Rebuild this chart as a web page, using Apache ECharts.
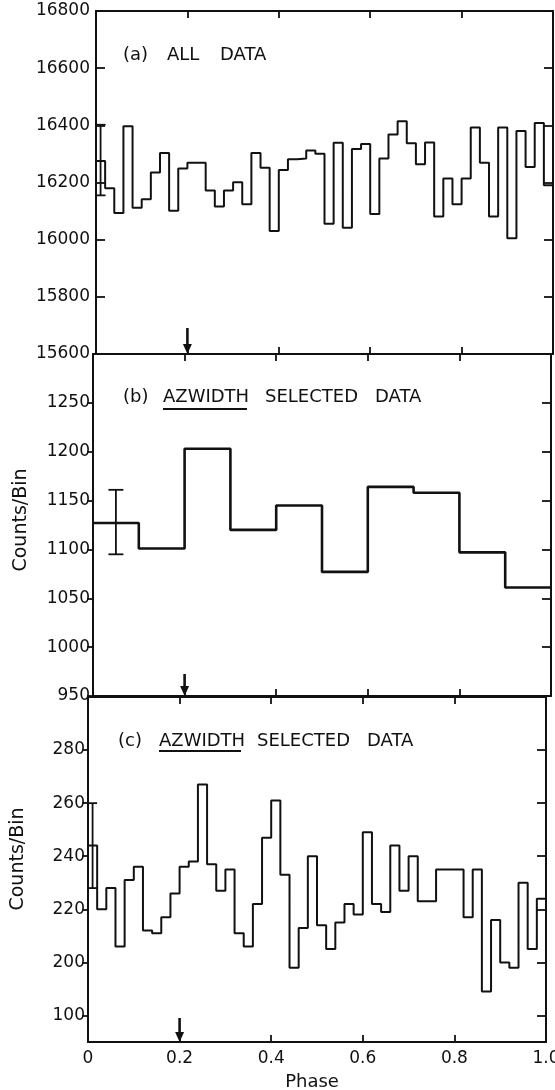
<!DOCTYPE html>
<html><head><meta charset="utf-8">
<script src="https://cdn.jsdelivr.net/npm/echarts@6/dist/echarts.min.js"></script>
<style>html,body{margin:0;padding:0;background:#fff}#c{width:555px;height:1090px}</style>
</head><body><div id="c"></div>
<script>
// ---- data ----
const countsA = [16275,16180,16093,16397,16112,16141,16235,16303,16101,16249,
                 16269,16269,16172,16116,16172,16201,16124,16303,16252,16030,
                 16244,16281,16284,16312,16301,16056,16339,16042,16317,16335,
                 16090,16284,16368,16414,16337,16264,16340,16081,16214,16124,
                 16214,16392,16269,16081,16392,16005,16380,16254,16408,16190];
const countsB = [1127,1101,1203,1120,1145,1077,1164,1158,1097,1061];
const countsC = [244,220,228,206,231,236,212,211,217,226,
                 236,238,267,237,227,235,211,206,222,247,
                 261,233,198,213,240,214,205,215,222,218,
                 249,222,219,244,227,240,223,223,235,235,
                 235,217,235,189,216,200,198,230,205,224];
const errorBarA = [0.01, 16155, 16402];
const errorBarB = [0.05, 1095, 1161];
const errorBarC = [0.01, 228, 260];
const arrowPhase = 0.2;
const yRangeA = [15600, 16800];
const yRangeB = [950, 1300];
const yRangeC = [170, 300];
const yTickValuesC = [180, 200, 220, 240, 260, 280];
const yTickLabelsC = ['100', '200', '220', '240', '260', '280'];
const xTickValues = [0, 0.2, 0.4, 0.6, 0.8, 1.0];
const xTickLabels = ['0', '0.2', '0.4', '0.6', '0.8', '1.0'];
const titleWordsA = ['(a)', 'ALL', 'DATA'];
const titleWordsB = ['(b)', 'AZWIDTH', 'SELECTED', 'DATA'];
const titleWordsC = ['(c)', 'AZWIDTH', 'SELECTED', 'DATA'];
const yAxisTitle = 'Counts/Bin';
const xAxisTitle = 'Phase';

// ---- helpers ----
function stepData(counts) {
  const w = 1 / counts.length;
  const pts = counts.map((v, i) => [i * w, v]);
  pts.push([1, counts[counts.length - 1]]);
  return pts;
}
const INK = '#111';
const FONT = '"DejaVu Sans", sans-serif';
const gridBase = {containLabel: false, outerBoundsMode: 'none'};
const grids = [
  Object.assign({left: 96, top: 11, width: 457, height: 343}, gridBase),
  Object.assign({left: 93, top: 354, width: 458, height: 342}, gridBase),
  Object.assign({left: 88, top: 697, width: 458, height: 345}, gridBase)
];
function xAx(gi, pos, showLabels) {
  return {
    type: 'value', gridIndex: gi, position: pos, min: 0, max: 1, interval: 0.2,
    axisLine: {show: true, onZero: false, lineStyle: {color: INK, width: 2}},
    axisTick: {show: true, inside: true, length: 7, lineStyle: {color: INK, width: 1.8}},
    axisLabel: showLabels ? {show: true, margin: 8, color: INK, fontFamily: FONT, fontSize: 17,
      showMinLabel: true, showMaxLabel: true, hideOverlap: false,
      formatter: v => { const i = xTickValues.findIndex(t => Math.abs(t - v) < 1e-6); return i >= 0 ? xTickLabels[i] : ''; }}
      : {show: false},
    splitLine: {show: false}
  };
}
function yAx(gi, pos, range, opts) {
  const o = {
    type: 'value', gridIndex: gi, position: pos, min: range[0], max: range[1],
    axisLine: {show: true, onZero: false, lineStyle: {color: INK, width: 2}},
    axisTick: {show: true, inside: opts.inside, length: opts.tickLen || 9, lineStyle: {color: INK, width: 1.8}},
    axisLabel: {show: pos === 'left', margin: opts.margin || 6, color: INK, fontFamily: FONT, fontSize: 17,
      showMaxLabel: opts.showMax !== false, showMinLabel: true, hideOverlap: false,
      formatter: v => String(v)},
    splitLine: {show: false}
  };
  if (opts.interval) o.interval = opts.interval;
  if (opts.customTicks) {
    o.axisTick.customValues = opts.customTicks;
    o.axisLabel.customValues = opts.customTicks;
    o.axisLabel.formatter = v => { const i = opts.customTicks.indexOf(v); return i >= 0 ? opts.customLabels[i] : ''; };
  }
  return o;
}
function errorSeries(xi, yi, bar, capHalf) {
  return {
    type: 'custom', xAxisIndex: xi, yAxisIndex: yi, data: [bar], encode: {x: 0, y: [1, 2]},
    silent: true, animation: false,
    renderItem: (params, api) => {
      const x = api.value(0), lo = api.value(1), hi = api.value(2);
      const p1 = api.coord([x, lo]), p2 = api.coord([x, hi]);
      const st = {stroke: INK, lineWidth: 1.8};
      return {type: 'group', children: [
        {type: 'line', shape: {x1: p1[0], y1: p1[1], x2: p2[0], y2: p2[1]}, style: st},
        {type: 'line', shape: {x1: p1[0] - capHalf, y1: p1[1], x2: p1[0] + capHalf, y2: p1[1]}, style: st},
        {type: 'line', shape: {x1: p2[0] - capHalf, y1: p2[1], x2: p2[0] + capHalf, y2: p2[1]}, style: st}
      ]};
    }
  };
}
function arrowSeries(xi, yi, yMin, len) {
  return {
    type: 'custom', xAxisIndex: xi, yAxisIndex: yi, data: [[arrowPhase, yMin]],
    silent: true, animation: false, clip: false,
    renderItem: (params, api) => {
      const p = api.coord([api.value(0), api.value(1)]);
      const hh = 10, hw = 4.5;
      return {type: 'group', children: [
        {type: 'line', shape: {x1: p[0], y1: p[1] - len, x2: p[0], y2: p[1] - hh + 1}, style: {stroke: INK, lineWidth: 2.6}},
        {type: 'polygon', shape: {points: [[p[0] - hw, p[1] - hh], [p[0] + hw, p[1] - hh], [p[0], p[1]]]}, style: {fill: INK}}
      ]};
    }
  };
}
function stepSeries(xi, yi, counts, w) {
  return {
    type: 'line', xAxisIndex: xi, yAxisIndex: yi, step: 'end', data: stepData(counts),
    symbol: 'none', lineStyle: {color: INK, width: w}, animation: false, silent: true
  };
}
function words(list, xs, y) {
  return list.map((t, i) => ({
    type: 'text', x: xs[i], y: y,
    style: {text: t, font: '18px ' + FONT, fill: INK, align: 'left', verticalAlign: 'middle',
            textAlign: 'left', textVerticalAlign: 'middle'}
  }));
}

const option = {
  backgroundColor: '#fff',
  animation: false,
  grid: grids,
  xAxis: [
    xAx(0, 'bottom', false), xAx(0, 'top', false),
    xAx(1, 'bottom', false), xAx(1, 'top', false),
    xAx(2, 'bottom', true), xAx(2, 'top', false)
  ],
  yAxis: [
    yAx(0, 'left', yRangeA, {inside: true, interval: 200, margin: 6}),
    yAx(0, 'right', yRangeA, {inside: true, interval: 200}),
    yAx(1, 'left', yRangeB, {inside: false, tickLen: 6, interval: 50, margin: 3, showMax: false}),
    yAx(1, 'right', yRangeB, {inside: true, interval: 50}),
    yAx(2, 'left', yRangeC, {inside: false, tickLen: 6, margin: 3, customTicks: yTickValuesC, customLabels: yTickLabelsC}),
    yAx(2, 'right', yRangeC, {inside: true, customTicks: yTickValuesC, customLabels: yTickLabelsC})
  ],
  series: [
    stepSeries(0, 0, countsA, 2),
    stepSeries(2, 2, countsB, 2.6),
    stepSeries(4, 4, countsC, 2),
    errorSeries(0, 0, errorBarA, 5),
    errorSeries(2, 2, errorBarB, 7.5),
    errorSeries(4, 4, errorBarC, 4.5),
    arrowSeries(0, 0, yRangeA[0], 26),
    arrowSeries(2, 2, yRangeB[0], 22),
    arrowSeries(4, 4, yRangeC[0], 24)
  ],
  graphic: [
    ...words(titleWordsA, [123, 167, 220], 55),
    ...words(titleWordsB, [123, 163, 265, 375], 397),
    {type: 'line', shape: {x1: 163, y1: 409, x2: 247, y2: 409}, style: {stroke: INK, lineWidth: 2}},
    ...words(titleWordsC, [118, 159, 257, 367], 741),
    {type: 'line', shape: {x1: 159, y1: 751, x2: 241, y2: 751}, style: {stroke: INK, lineWidth: 2}},
    {type: 'text', x: 21, y: 520, rotation: Math.PI / 2,
     style: {text: yAxisTitle, font: '19px ' + FONT, fill: INK, align: 'center', verticalAlign: 'middle', textAlign: 'center', textVerticalAlign: 'middle'}},
    {type: 'text', x: 18, y: 859, rotation: Math.PI / 2,
     style: {text: yAxisTitle, font: '19px ' + FONT, fill: INK, align: 'center', verticalAlign: 'middle', textAlign: 'center', textVerticalAlign: 'middle'}},
    {type: 'text', x: 312, y: 1082,
     style: {text: xAxisTitle, font: '18px ' + FONT, fill: INK, align: 'center', verticalAlign: 'middle', textAlign: 'center', textVerticalAlign: 'middle'}}
  ]
};
const chart = echarts.init(document.getElementById('c'), null, {renderer: 'canvas'});
chart.setOption(option);
</script>
</body></html>
